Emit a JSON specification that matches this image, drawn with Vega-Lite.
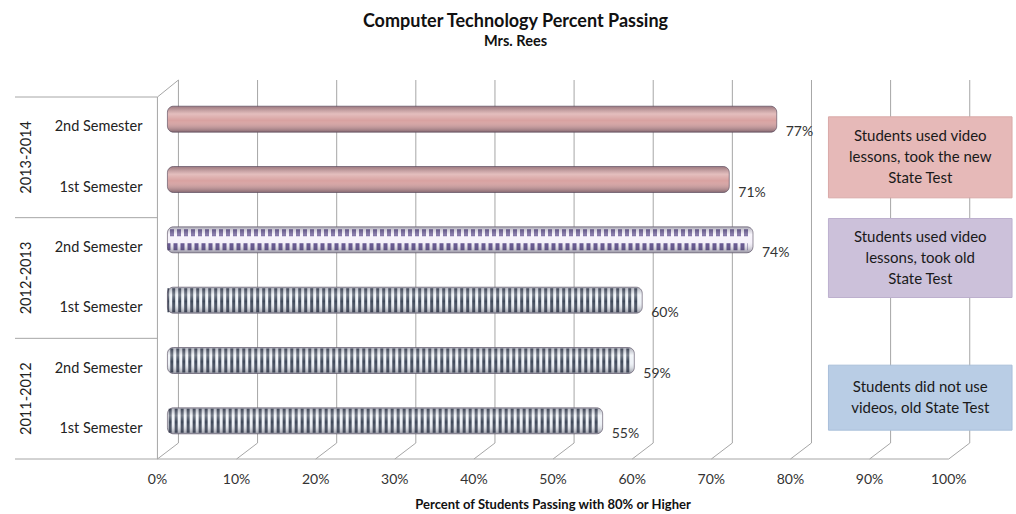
{
  "$schema": "https://vega.github.io/schema/vega-lite/v6.json",
  "width": 1001,
  "height": 362,
  "autosize": {"type": "none"},
  "padding": {"left": 15, "top": 97, "right": 0, "bottom": 55},
  "background": "white",
  "config": {"view": {"stroke": null}, "font": "Lato"},
  "title": {
    "text": "Computer Technology Percent Passing",
    "subtitle": "Mrs. Rees",
    "font": "Lato",
    "subtitleFont": "Lato",
    "fontSize": 18,
    "fontWeight": "bold",
    "subtitleFontSize": 14.5,
    "subtitleFontWeight": "bold",
    "color": "#111111",
    "subtitleColor": "#111111",
    "anchor": "middle",
    "offset": 31,
    "subtitlePadding": 4
  },
  "datasets": {
    "scores": [
      {"year": "2013-2014", "semester": "2nd Semester", "row": "2013-2014 2nd Semester", "pct": 0.77, "condition": "video_new"},
      {"year": "2013-2014", "semester": "1st Semester", "row": "2013-2014 1st Semester", "pct": 0.71, "condition": "video_new"},
      {"year": "2012-2013", "semester": "2nd Semester", "row": "2012-2013 2nd Semester", "pct": 0.74, "condition": "video_old"},
      {"year": "2012-2013", "semester": "1st Semester", "row": "2012-2013 1st Semester", "pct": 0.60, "condition": "no_video"},
      {"year": "2011-2012", "semester": "2nd Semester", "row": "2011-2012 2nd Semester", "pct": 0.59, "condition": "no_video"},
      {"year": "2011-2012", "semester": "1st Semester", "row": "2011-2012 1st Semester", "pct": 0.55, "condition": "no_video"}
    ],
    "notes": [
      {"year": "2013-2014", "condition": "video_new", "note": "Students used video\nlessons, took the new\nState Test"},
      {"year": "2012-2013", "condition": "video_old", "note": "Students used video\nlessons, took old\nState Test"},
      {"year": "2011-2012", "condition": "no_video", "note": "Students did not use\nvideos, old State Test"}
    ],
    "years": [{"year": "2013-2014"}, {"year": "2012-2013"}, {"year": "2011-2012"}],
    "ticks": [{"t": 0}, {"t": 0.1}, {"t": 0.2}, {"t": 0.3}, {"t": 0.4}, {"t": 0.5}, {"t": 0.6}, {"t": 0.7}, {"t": 0.8}, {"t": 0.9}, {"t": 1.0}],
    "one": [{"k": 1}],
    "axistitle": [{"label": "Percent of Students Passing  with 80% or Higher", "mid": 0.5}]
  },
  "data": {"name": "scores"},
  "resolve": {"scale": {"y": "independent"}},
  "layer": [
    {
      "data": {"name": "ticks"},
      "mark": {"type": "rule", "color": "#A6A6A6", "strokeWidth": 1, "xOffset": 21, "yOffset": -17, "y2Offset": -16},
      "encoding": {
        "x": {"field": "t", "type": "quantitative", "scale": {"domain": [-0.18, 1.085], "nice": false, "zero": false}, "axis": null},
        "y": {"value": 0},
        "y2": {"value": "height"}
      }
    },
    {
      "data": {"name": "ticks"},
      "mark": {"type": "rule", "color": "#A6A6A6", "strokeWidth": 1, "x2Offset": 21, "y2Offset": -16},
      "encoding": {
        "x": {"field": "t", "type": "quantitative", "scale": {"domain": [-0.18, 1.085], "nice": false, "zero": false}, "axis": null},
        "x2": {"field": "t"},
        "y": {"value": "height"},
        "y2": {"value": "height"}
      }
    },
    {
      "data": {"name": "ticks"},
      "mark": {"type": "text", "align": "center", "baseline": "middle", "dy": 21, "fontSize": 14, "font": "Lato", "color": "#333333"},
      "encoding": {
        "x": {"field": "t", "type": "quantitative", "scale": {"domain": [-0.18, 1.085], "nice": false, "zero": false}, "axis": null},
        "y": {"value": "height"},
        "text": {"field": "t", "type": "quantitative", "format": ".0%"}
      }
    },
    {
      "data": {"name": "axistitle"},
      "mark": {"type": "text", "align": "center", "baseline": "middle", "dy": 46, "fontSize": 13, "fontWeight": "bold", "font": "Lato", "color": "#111111"},
      "encoding": {
        "x": {"field": "mid", "type": "quantitative", "scale": {"domain": [-0.18, 1.085], "nice": false, "zero": false}, "axis": null},
        "y": {"value": "height"},
        "text": {"field": "label", "type": "nominal"}
      }
    },
    {
      "data": {"name": "one"},
      "mark": {"type": "rule", "color": "#A6A6A6", "strokeWidth": 1},
      "encoding": {
        "x": {"datum": 0, "type": "quantitative", "scale": {"domain": [-0.18, 1.085], "nice": false, "zero": false}, "axis": null},
        "y": {"value": 0},
        "y2": {"value": "height"}
      }
    },
    {
      "data": {"name": "one"},
      "mark": {"type": "rule", "color": "#A6A6A6", "strokeWidth": 1, "x2Offset": 21, "y2Offset": -17},
      "encoding": {
        "x": {"datum": 0, "type": "quantitative", "scale": {"domain": [-0.18, 1.085], "nice": false, "zero": false}, "axis": null},
        "x2": {"datum": 0},
        "y": {"value": 0},
        "y2": {"value": 0}
      }
    },
    {
      "data": {"name": "one"},
      "mark": {"type": "rule", "color": "#A6A6A6", "strokeWidth": 1},
      "encoding": {
        "x": {"datum": -0.18, "type": "quantitative", "scale": {"domain": [-0.18, 1.085], "nice": false, "zero": false}, "axis": null},
        "x2": {"datum": 1},
        "y": {"value": "height"}
      }
    },
    {
      "data": {"name": "years"},
      "mark": {"type": "rule", "color": "#A6A6A6", "strokeWidth": 1},
      "encoding": {
        "x": {"datum": -0.18, "type": "quantitative", "scale": {"domain": [-0.18, 1.085], "nice": false, "zero": false}, "axis": null},
        "x2": {"datum": 0},
        "y": {"field": "year", "type": "nominal", "bandPosition": 0, "scale": {"type": "band", "domain": ["2013-2014", "2012-2013", "2011-2012"], "paddingInner": 0, "paddingOuter": 0}, "axis": null}
      }
    },
    {
      "mark": {"type": "bar", "size": 26, "cornerRadiusEnd": 6, "xOffset": 10, "x2Offset": 10, "yOffset": -8, "y2Offset": -8, "stroke": null},
      "encoding": {
        "x": {"field": "pct", "type": "quantitative", "scale": {"domain": [-0.18, 1.085], "nice": false, "zero": false}, "axis": null},
        "x2": {"datum": 0},
        "y": {"field": "row", "type": "nominal", "scale": {"type": "band", "domain": ["2013-2014 2nd Semester", "2013-2014 1st Semester", "2012-2013 2nd Semester", "2012-2013 1st Semester", "2011-2012 2nd Semester", "2011-2012 1st Semester"], "paddingInner": 0, "paddingOuter": 0}, "axis": null},
        "color": {"field": "condition", "type": "nominal", "scale": {"domain": ["video_new", "video_old", "no_video"], "range": ["#D8A2A1", "#F6F2FB", "#EEF2F7"]}, "legend": null}
      }
    },
    {
      "transform": [{"filter": "datum.condition === 'no_video'"}],
      "mark": {"type": "rule", "strokeWidth": 24, "strokeDash": [3, 3], "color": "#3E4859", "xOffset": 5, "x2Offset": 10, "yOffset": -8},
      "encoding": {
        "x": {"field": "pct", "type": "quantitative", "scale": {"domain": [-0.18, 1.085], "nice": false, "zero": false}, "axis": null},
        "x2": {"datum": 0},
        "y": {"field": "row", "type": "nominal", "scale": {"type": "band", "domain": ["2013-2014 2nd Semester", "2013-2014 1st Semester", "2012-2013 2nd Semester", "2012-2013 1st Semester", "2011-2012 2nd Semester", "2011-2012 1st Semester"], "paddingInner": 0, "paddingOuter": 0}, "axis": null}
      }
    },
    {
      "transform": [{"filter": "datum.condition === 'video_old'"}],
      "mark": {"type": "rule", "strokeWidth": 7, "strokeDash": [4, 3], "color": "#5B4A8A", "xOffset": 5, "x2Offset": 10, "yOffset": -15},
      "encoding": {
        "x": {"field": "pct", "type": "quantitative", "scale": {"domain": [-0.18, 1.085], "nice": false, "zero": false}, "axis": null},
        "x2": {"datum": 0},
        "y": {"field": "row", "type": "nominal", "scale": {"type": "band", "domain": ["2013-2014 2nd Semester", "2013-2014 1st Semester", "2012-2013 2nd Semester", "2012-2013 1st Semester", "2011-2012 2nd Semester", "2011-2012 1st Semester"], "paddingInner": 0, "paddingOuter": 0}, "axis": null}
      }
    },
    {
      "transform": [{"filter": "datum.condition === 'video_old'"}],
      "mark": {"type": "rule", "strokeWidth": 7, "strokeDash": [4, 3], "strokeDashOffset": 3.5, "color": "#5B4A8A", "xOffset": 5, "x2Offset": 10, "yOffset": -1},
      "encoding": {
        "x": {"field": "pct", "type": "quantitative", "scale": {"domain": [-0.18, 1.085], "nice": false, "zero": false}, "axis": null},
        "x2": {"datum": 0},
        "y": {"field": "row", "type": "nominal", "scale": {"type": "band", "domain": ["2013-2014 2nd Semester", "2013-2014 1st Semester", "2012-2013 2nd Semester", "2012-2013 1st Semester", "2011-2012 2nd Semester", "2011-2012 1st Semester"], "paddingInner": 0, "paddingOuter": 0}, "axis": null}
      }
    },
    {
      "mark": {"type": "bar", "size": 26, "cornerRadiusEnd": 6, "xOffset": 10, "x2Offset": 10, "yOffset": -8, "y2Offset": -8,
        "fill": {"gradient": "linear", "x1": 0, "y1": 0, "x2": 0, "y2": 1, "stops": [
          {"offset": 0, "color": "rgba(40,40,60,0.35)"},
          {"offset": 0.3, "color": "rgba(255,255,255,0.3)"},
          {"offset": 0.55, "color": "rgba(255,255,255,0)"},
          {"offset": 1, "color": "rgba(30,30,50,0.45)"}]},
        "stroke": "rgba(70,60,80,0.7)", "strokeWidth": 0.8},
      "encoding": {
        "x": {"field": "pct", "type": "quantitative", "scale": {"domain": [-0.18, 1.085], "nice": false, "zero": false}, "axis": null},
        "x2": {"datum": 0},
        "y": {"field": "row", "type": "nominal", "scale": {"type": "band", "domain": ["2013-2014 2nd Semester", "2013-2014 1st Semester", "2012-2013 2nd Semester", "2012-2013 1st Semester", "2011-2012 2nd Semester", "2011-2012 1st Semester"], "paddingInner": 0, "paddingOuter": 0}, "axis": null}
      }
    },
    {
      "mark": {"type": "text", "align": "left", "baseline": "middle", "dx": 19, "dy": 5, "fontSize": 14, "font": "Lato", "color": "#333333"},
      "encoding": {
        "x": {"field": "pct", "type": "quantitative", "scale": {"domain": [-0.18, 1.085], "nice": false, "zero": false}, "axis": null},
        "y": {"field": "row", "type": "nominal", "bandPosition": 0.5, "scale": {"type": "band", "domain": ["2013-2014 2nd Semester", "2013-2014 1st Semester", "2012-2013 2nd Semester", "2012-2013 1st Semester", "2011-2012 2nd Semester", "2011-2012 1st Semester"], "paddingInner": 0, "paddingOuter": 0}, "axis": null},
        "text": {"field": "pct", "type": "quantitative", "format": ".0%"}
      }
    },
    {
      "mark": {"type": "text", "align": "right", "baseline": "middle", "dx": -15, "fontSize": 14.5, "font": "Lato", "color": "#222222"},
      "encoding": {
        "x": {"datum": 0, "type": "quantitative", "scale": {"domain": [-0.18, 1.085], "nice": false, "zero": false}, "axis": null},
        "y": {"field": "row", "type": "nominal", "bandPosition": 0.5, "scale": {"type": "band", "domain": ["2013-2014 2nd Semester", "2013-2014 1st Semester", "2012-2013 2nd Semester", "2012-2013 1st Semester", "2011-2012 2nd Semester", "2011-2012 1st Semester"], "paddingInner": 0, "paddingOuter": 0}, "axis": null},
        "text": {"field": "semester", "type": "nominal"}
      }
    },
    {
      "data": {"name": "years"},
      "mark": {"type": "text", "align": "center", "baseline": "middle", "angle": 270, "fontSize": 14.5, "font": "Lato", "color": "#222222"},
      "encoding": {
        "x": {"datum": -0.165, "type": "quantitative", "scale": {"domain": [-0.18, 1.085], "nice": false, "zero": false}, "axis": null},
        "y": {"field": "year", "type": "nominal", "bandPosition": 0.5, "scale": {"type": "band", "domain": ["2013-2014", "2012-2013", "2011-2012"], "paddingInner": 0, "paddingOuter": 0}, "axis": null},
        "text": {"field": "year", "type": "nominal"}
      }
    },
    {
      "data": {"name": "notes"},
      "transform": [{"filter": "datum.condition === 'video_new'"}],
      "mark": {"type": "bar", "size": 81, "color": "#E6B9B8", "stroke": "#D9A9A8", "strokeWidth": 1},
      "encoding": {
        "x": {"datum": 0.848, "type": "quantitative", "scale": {"domain": [-0.18, 1.085], "nice": false, "zero": false}, "axis": null},
        "x2": {"datum": 1.08},
        "y": {"field": "year", "type": "nominal", "scale": {"type": "band", "domain": ["2013-2014", "2012-2013", "2011-2012"], "paddingInner": 0, "paddingOuter": 0}, "axis": null}
      }
    },
    {
      "data": {"name": "notes"},
      "transform": [{"filter": "datum.condition === 'video_old'"}],
      "mark": {"type": "bar", "size": 79, "yOffset": -20, "y2Offset": -20, "color": "#CCC1DA", "stroke": "#BDB0CE", "strokeWidth": 1},
      "encoding": {
        "x": {"datum": 0.848, "type": "quantitative", "scale": {"domain": [-0.18, 1.085], "nice": false, "zero": false}, "axis": null},
        "x2": {"datum": 1.08},
        "y": {"field": "year", "type": "nominal", "scale": {"type": "band", "domain": ["2013-2014", "2012-2013", "2011-2012"], "paddingInner": 0, "paddingOuter": 0}, "axis": null}
      }
    },
    {
      "data": {"name": "notes"},
      "transform": [{"filter": "datum.condition === 'no_video'"}],
      "mark": {"type": "bar", "size": 65, "yOffset": -1, "y2Offset": -1, "color": "#B9CDE5", "stroke": "#A9BFDA", "strokeWidth": 1},
      "encoding": {
        "x": {"datum": 0.848, "type": "quantitative", "scale": {"domain": [-0.18, 1.085], "nice": false, "zero": false}, "axis": null},
        "x2": {"datum": 1.08},
        "y": {"field": "year", "type": "nominal", "scale": {"type": "band", "domain": ["2013-2014", "2012-2013", "2011-2012"], "paddingInner": 0, "paddingOuter": 0}, "axis": null}
      }
    },
    {
      "data": {"name": "notes"},
      "transform": [{"filter": "datum.condition === 'video_new'"}],
      "mark": {"type": "text", "align": "center", "baseline": "middle", "lineBreak": "\n", "lineHeight": 21, "fontSize": 15, "font": "Lato", "color": "#1A1A1A", "dy": -21},
      "encoding": {
        "x": {"datum": 0.964, "type": "quantitative", "scale": {"domain": [-0.18, 1.085], "nice": false, "zero": false}, "axis": null},
        "y": {"field": "year", "type": "nominal", "bandPosition": 0.5, "scale": {"type": "band", "domain": ["2013-2014", "2012-2013", "2011-2012"], "paddingInner": 0, "paddingOuter": 0}, "axis": null},
        "text": {"field": "note", "type": "nominal"}
      }
    },
    {
      "data": {"name": "notes"},
      "transform": [{"filter": "datum.condition === 'video_old'"}],
      "mark": {"type": "text", "align": "center", "baseline": "middle", "lineBreak": "\n", "lineHeight": 21, "fontSize": 15, "font": "Lato", "color": "#1A1A1A", "dy": -41},
      "encoding": {
        "x": {"datum": 0.964, "type": "quantitative", "scale": {"domain": [-0.18, 1.085], "nice": false, "zero": false}, "axis": null},
        "y": {"field": "year", "type": "nominal", "bandPosition": 0.5, "scale": {"type": "band", "domain": ["2013-2014", "2012-2013", "2011-2012"], "paddingInner": 0, "paddingOuter": 0}, "axis": null},
        "text": {"field": "note", "type": "nominal"}
      }
    },
    {
      "data": {"name": "notes"},
      "transform": [{"filter": "datum.condition === 'no_video'"}],
      "mark": {"type": "text", "align": "center", "baseline": "middle", "lineBreak": "\n", "lineHeight": 21, "fontSize": 15, "font": "Lato", "color": "#1A1A1A", "dy": -11.5},
      "encoding": {
        "x": {"datum": 0.964, "type": "quantitative", "scale": {"domain": [-0.18, 1.085], "nice": false, "zero": false}, "axis": null},
        "y": {"field": "year", "type": "nominal", "bandPosition": 0.5, "scale": {"type": "band", "domain": ["2013-2014", "2012-2013", "2011-2012"], "paddingInner": 0, "paddingOuter": 0}, "axis": null},
        "text": {"field": "note", "type": "nominal"}
      }
    }
  ]
}
